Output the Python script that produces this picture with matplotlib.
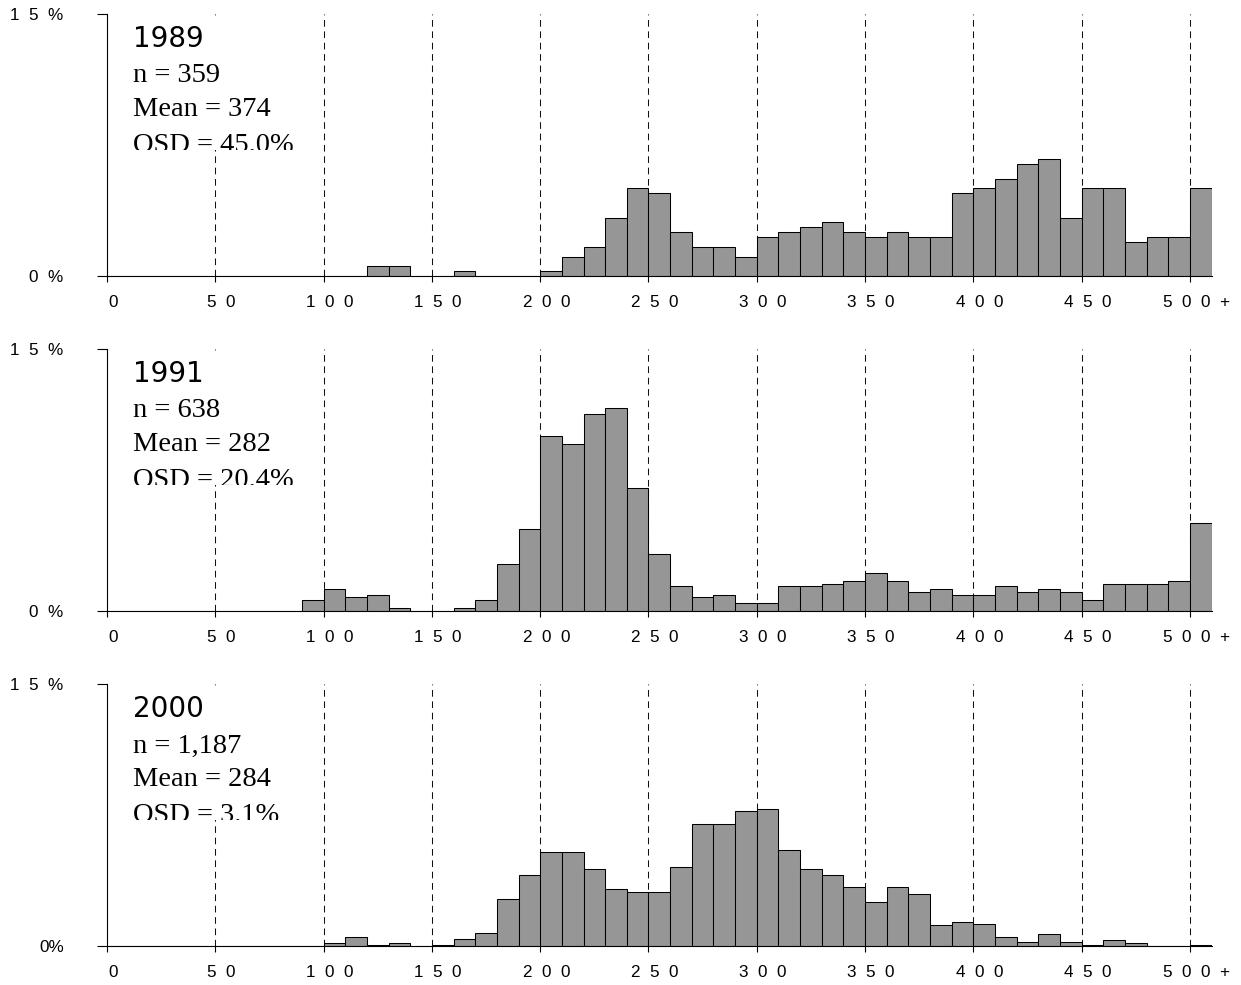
import matplotlib
matplotlib.use("Agg")
import matplotlib.pyplot as plt
from matplotlib.patches import Rectangle

# ---------------- data ----------------
bin_starts = list(range(0, 510, 10))          # last bin = "500+"

counts_1989 = [0, 0, 0, 0, 0, 0, 0, 0, 0, 0,
               0, 0, 2, 2, 0, 0, 1, 0, 0, 0,
               1, 4, 6, 12, 18, 17, 9, 6, 6, 4,
               8, 9, 10, 11, 9, 8, 9, 8, 8, 17,
               18, 20, 23, 24, 12, 18, 18, 7, 8, 8,
               18]
counts_1991 = [0, 0, 0, 0, 0, 0, 0, 0, 0, 4,
               8, 5, 6, 1, 0, 0, 1, 4, 17, 30,
               64, 61, 72, 74, 45, 21, 9, 5, 6, 3,
               3, 9, 9, 10, 11, 14, 11, 7, 8, 6,
               6, 9, 7, 8, 7, 4, 10, 10, 10, 11,
               32]
counts_2000 = [0, 0, 0, 0, 0, 0, 0, 0, 0, 0,
               2, 6, 1, 2, 0, 1, 5, 9, 32, 48,
               64, 64, 52, 39, 37, 37, 54, 83, 83, 92,
               93, 65, 52, 48, 40, 30, 40, 35, 14, 16,
               15, 6, 3, 8, 3, 1, 4, 2, 0, 0,
               1]

years = ["1989", "1991", "2000"]
n_values = [359, 638, 1187]
n_labels = ["359", "638", "1,187"]
mean_labels = ["374", "282", "284"]
osd_labels = ["45.0%", "20.4%", "3.1%"]

xtick_values = list(range(0, 501, 50))
xtick_labels = ["0", "5  0", "1  0  0", "1  5  0", "2  0  0", "2  5  0",
                "3  0  0", "3  5  0", "4  0  0", "4  5  0", "5  0  0  +"]
ytick_values = [0, 15]
ytick_labels_list = [["0  %", "1  5  %"], ["0  %", "1  5  %"], ["0%", "1  5  %"]]

all_counts = [counts_1989, counts_1991, counts_2000]

# ---------------- figure ----------------
W, H = 1241, 985
fig = plt.figure(figsize=(W / 100, H / 100), dpi=100)
plt.rcParams["font.family"] = ["Liberation Sans", "DejaVu Sans"]

left_px = 107
px_per_unit = (1190 - 107) / 500.0
right_px = left_px + 510 * px_per_unit
panel_h = 262

for k in range(3):
    top_px = 14 + 335 * k
    ax = fig.add_axes([left_px / W, 1 - (top_px + panel_h) / H,
                       (right_px - left_px) / W, panel_h / H])
    ax.set_xlim(0, 510)
    ax.set_ylim(0, 15)

    pct = [c / n_values[k] * 100 for c in all_counts[k]]

    # dashed reference lines
    ax.vlines(xtick_values[1:], 0, 15, colors="#111111", linewidth=0.75,
              linestyles=[(0, (6.4, 4.5))], zorder=1)

    ax.bar(bin_starts, pct, width=10, align="edge", color="#969696",
           edgecolor="black", linewidth=0.75, zorder=2)

    for s in ["top", "right"]:
        ax.spines[s].set_visible(False)
    for s in ["left", "bottom"]:
        ax.spines[s].set_linewidth(0.8)
        ax.spines[s].set_color("black")

    # y ticks
    ax.set_yticks(ytick_values)
    ax.set_yticklabels(ytick_labels_list[k])
    ax.tick_params(axis="y", length=7.2, width=0.8, direction="out",
                   pad=24, labelsize=12.3)

    # x ticks: marks at major, labels at minor (shifted slightly right)
    ax.set_xticks(xtick_values)
    ax.set_xticklabels([""] * len(xtick_values))
    ax.set_xticks([v + 2.8 for v in xtick_values], minor=True)
    ax.set_xticklabels(xtick_labels, minor=True)
    ax.tick_params(axis="x", which="major", length=4.3, width=0.8,
                   direction="out")
    ax.tick_params(axis="x", which="minor", length=0, pad=13.5, labelsize=12.3)

    # white text box which masks the 50 line and clips the last text row
    box = Rectangle((4, 7.24), 86, 7.61, facecolor="white", edgecolor="none",
                    zorder=3)
    ax.add_patch(box)

    t1 = ax.text(12, 13.09, years[k], fontsize=20, family="DejaVu Sans",
                 va="baseline", ha="left", zorder=4)
    t2 = ax.text(12, 11.08, "n = " + n_labels[k], fontsize=20.5,
                 family="Liberation Serif", va="baseline", ha="left", zorder=4)
    t3 = ax.text(12, 9.14, "Mean = " + mean_labels[k], fontsize=20.5,
                 family="Liberation Serif", va="baseline", ha="left", zorder=4)
    t4 = ax.text(12, 7.12, "OSD = " + osd_labels[k], fontsize=20.5,
                 family="Liberation Serif", va="baseline", ha="left", zorder=4)
    for t in (t1, t2, t3, t4):
        t.set_clip_on(True)
        t.set_clip_path(box)

fig.savefig("out.png", dpi=100)
